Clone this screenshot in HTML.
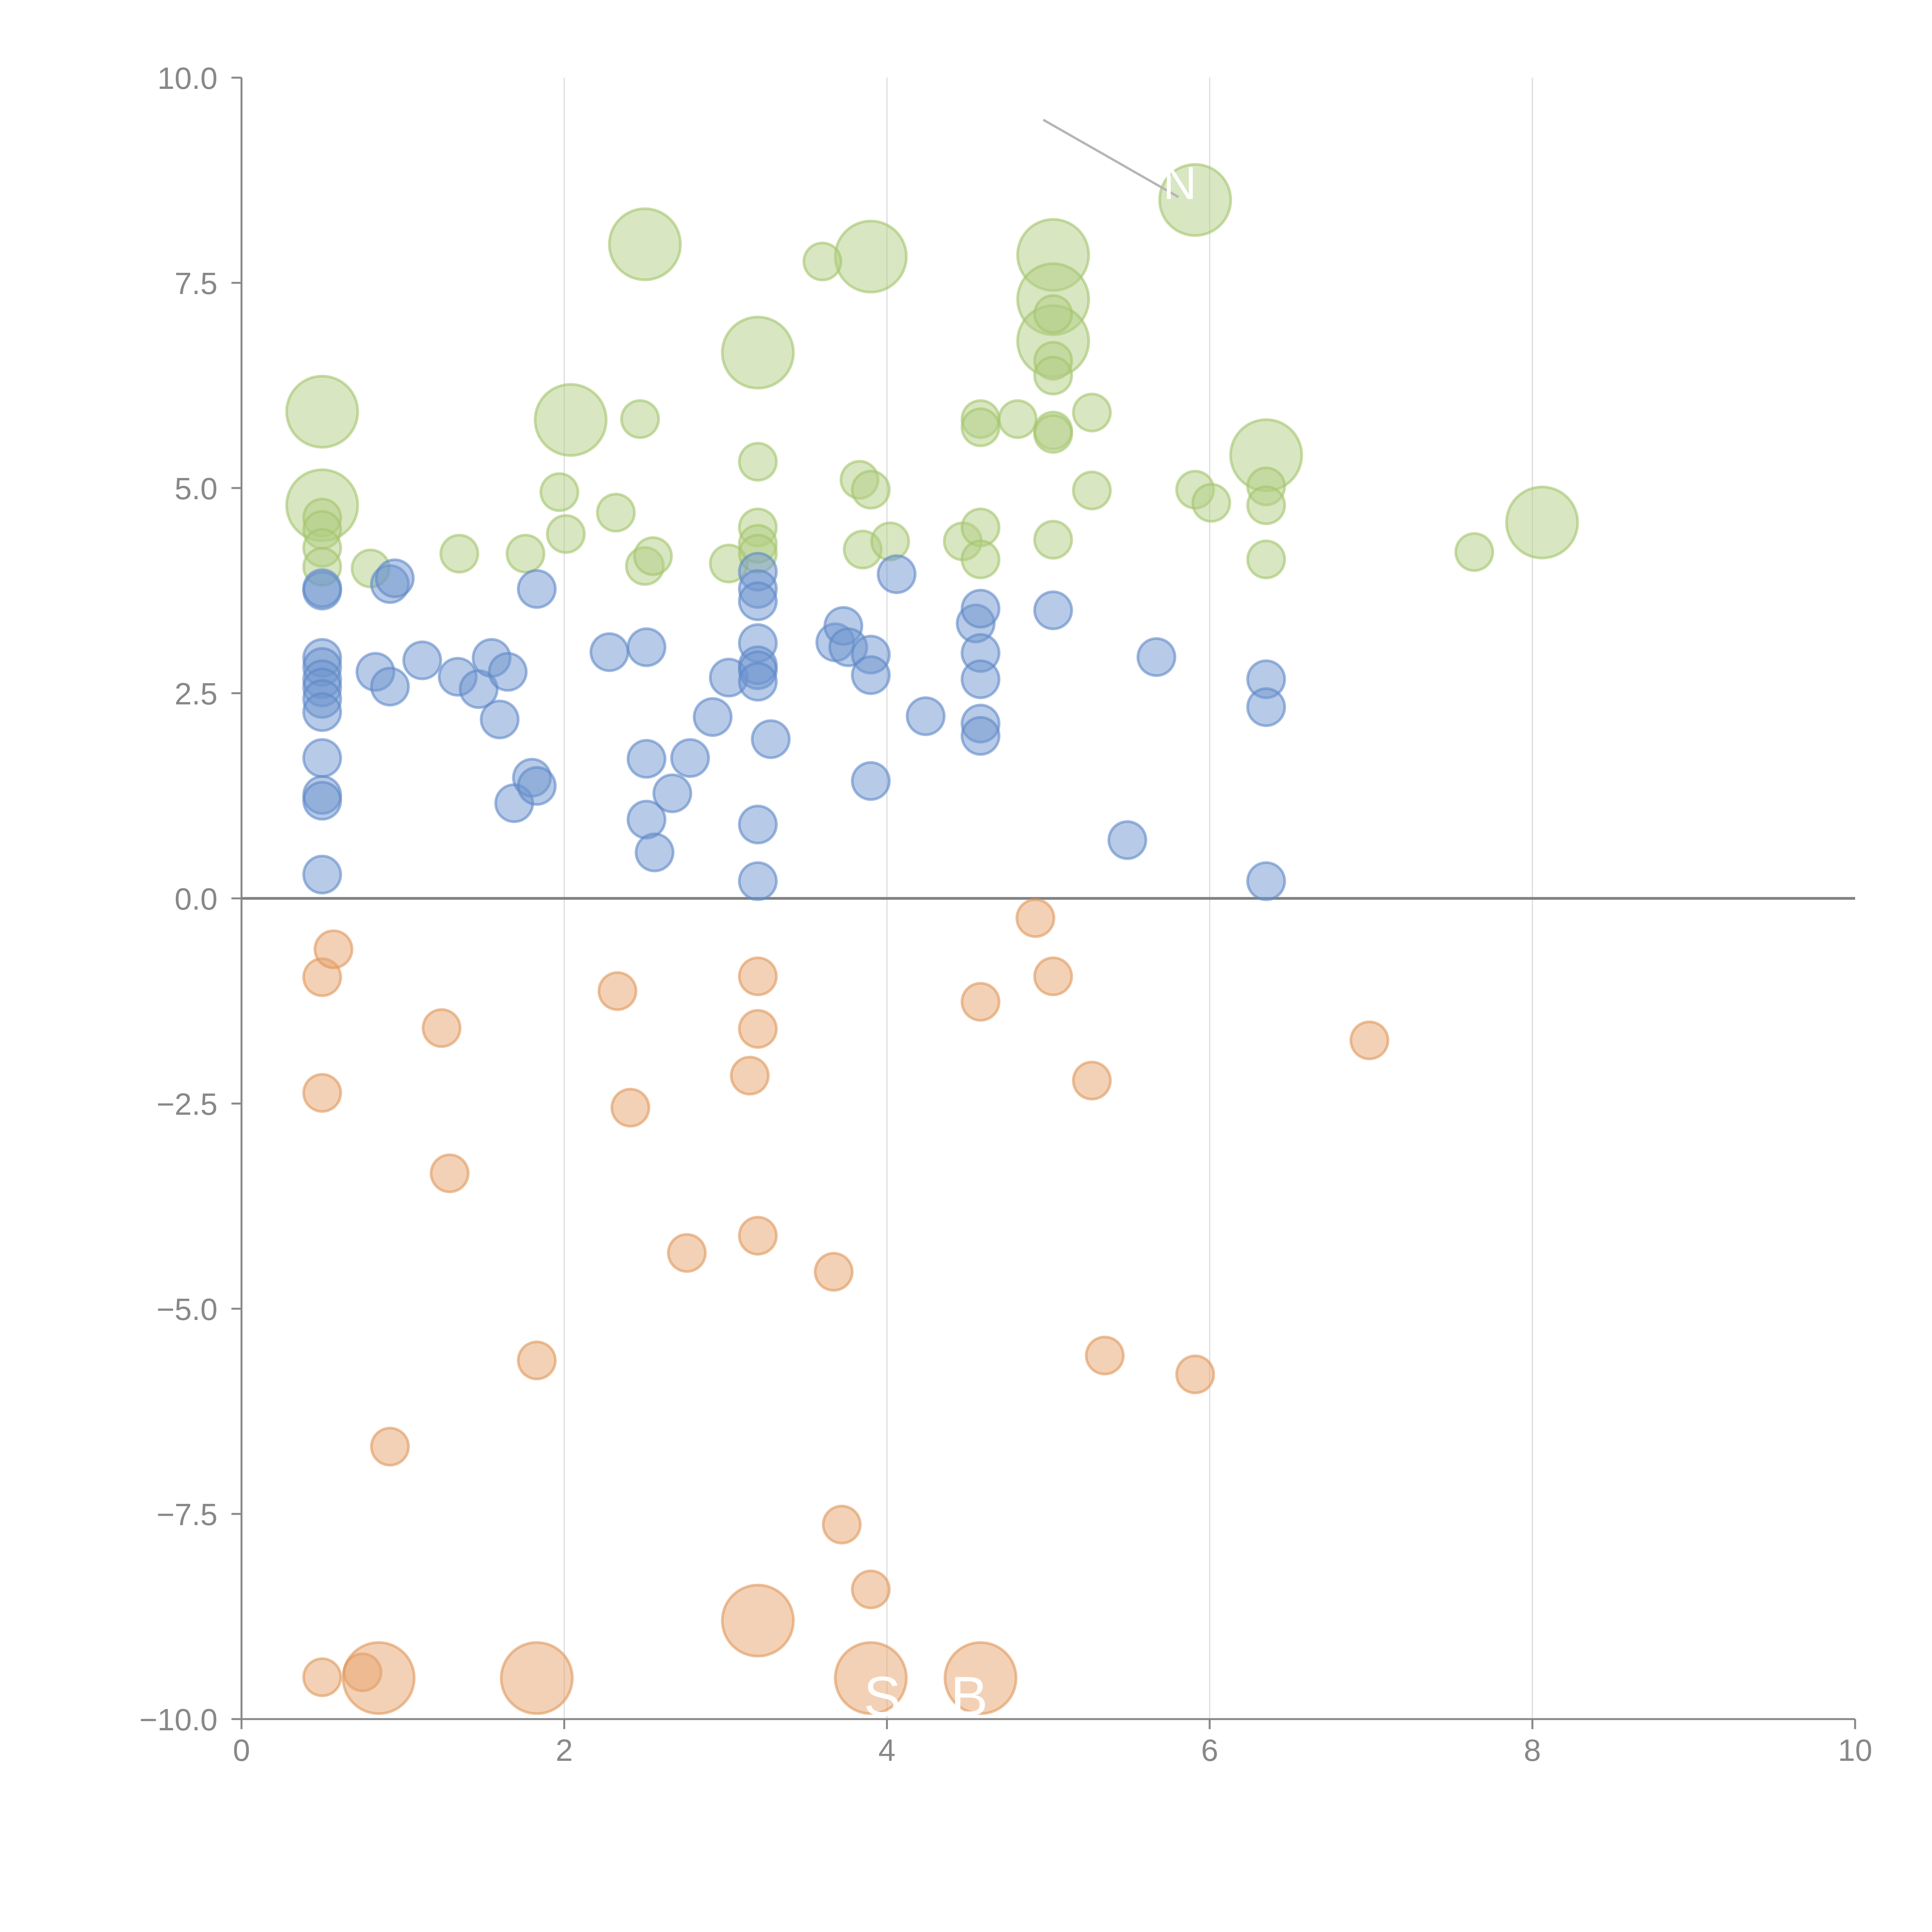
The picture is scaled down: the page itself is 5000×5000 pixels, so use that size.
<!DOCTYPE html>
<html><head><meta charset="utf-8">
<style>html,body{margin:0;padding:0;background:#fff;}svg{display:block;}</style>
</head><body>
<svg id="chart" width="5000" height="5000" viewBox="0 0 5000 5000" xmlns="http://www.w3.org/2000/svg" font-family="Liberation Sans, Arial, sans-serif">
<g id="grid"></g>
<g id="axes"></g>
<g id="marks"></g>
<g id="annot"></g>
</svg>
<script>
const xTicks = [0, 2, 4, 6, 8, 10];
const yTicks = [10, 7.5, 5, 2.5, 0, -2.5, -5, -7.5, -10];
const yTickLabels = ["10.0", "7.5", "5.0", "2.5", "0.0", "\u22122.5", "\u22125.0", "\u22127.5", "\u221210.0"];

const greenX = [0.5,0.5,2.5,2.04,3.2,3.9,5.03,5.03,5.03,5.91,6.35,8.06,
 0.5,0.5,0.5,0.5,0.8,1.35,1.76,1.97,2.01,2.32,2.47,2.5,2.55,3.02,3.2,3.2,3.2,3.2,3.6,3.83,3.85,3.9,4.02,4.47,4.58,4.58,4.58,4.58,4.81,5.03,5.03,5.03,5.03,5.03,5.03,5.27,5.27,5.91,6.01,6.35,6.35,6.35,7.64];
const greenY = [5.93,4.79,7.97,5.83,6.65,7.82,7.84,7.3,6.79,8.51,5.4,4.58,
 4.64,4.49,4.27,4.04,4.02,4.2,4.2,4.95,4.44,4.7,5.84,4.05,4.17,4.08,5.32,4.52,4.32,4.2,7.76,5.1,4.25,4.98,4.35,4.35,5.84,5.74,4.52,4.13,5.84,7.12,6.55,6.37,5.7,5.66,4.37,5.92,4.97,4.98,4.82,5.02,4.79,4.13,4.22];
const greenSize = [2,2,2,2,2,2,2,2,2,2,2,2,
 1,1,1,1,1,1,1,1,1,1,1,1,1,1,1,1,1,1,1,1,1,1,1,1,1,1,1,1,1,1,1,1,1,1,1,1,1,1,1,1,1,1,1];

const blueX = [0.5,0.5,0.5,0.5,0.5,0.5,0.5,0.5,0.5,0.5,0.5,0.5,0.83,0.92,0.95,0.92,1.12,1.34,1.47,1.55,1.6,1.65,1.69,1.8,1.83,1.83,2.28,2.51,2.51,2.51,2.56,2.67,2.78,2.92,3.02,3.2,3.2,3.2,3.2,3.2,3.2,3.2,3.2,3.2,3.28,3.68,3.73,3.76,3.9,3.9,3.9,4.06,4.24,4.55,4.58,4.58,4.58,4.58,4.58,5.03,5.49,5.67,6.35,6.35,6.35];
const blueY = [3.75,3.78,2.93,2.82,2.67,2.57,2.43,2.27,1.71,1.26,1.19,0.29,2.76,3.83,3.9,2.58,2.9,2.7,2.55,2.93,2.18,2.76,1.16,1.47,3.77,1.37,3.0,3.06,1.7,0.96,0.56,1.28,1.71,2.21,2.69,3.98,3.77,3.62,3.11,2.84,2.78,2.64,0.9,0.21,1.94,3.12,3.32,3.06,2.97,2.72,1.43,3.95,2.22,3.35,3.53,2.99,2.67,2.13,1.98,3.51,0.71,2.94,2.67,2.33,0.21];

const orangeX = [0.5,0.57,0.5,1.24,1.29,0.92,0.5,0.75,1.83,2.33,2.41,2.76,3.15,3.2,3.2,3.2,3.67,3.72,3.9,4.58,4.92,5.03,5.27,5.35,5.91,6.99,
 0.85,1.83,3.2,3.9,4.58];
const orangeY = [-0.96,-0.62,-2.37,-1.58,-3.35,-6.68,-9.49,-9.43,-5.63,-1.13,-2.55,-4.32,-2.16,-0.95,-1.59,-4.11,-4.55,-7.63,-8.42,-1.26,-0.24,-0.95,-2.22,-5.57,-5.8,-1.73,
 -9.5,-9.5,-8.8,-9.5,-9.5];
const orangeSize = [1,1,1,1,1,1,1,1,1,1,1,1,1,1,1,1,1,1,1,1,1,1,1,1,1,1,2,2,2,2,2];

const NS = "http://www.w3.org/2000/svg";
const X0 = 625, X1 = 4801, Y0 = 4449, Y1 = 201;
function sx(v){ return X0 + (v - 0) / 10 * (X1 - X0); }
function sy(v){ return Y0 - (v + 10) / 20 * (Y0 - Y1); }
function rs(s){ return s === 2 ? 92 : 48; }
function mk(tag, attrs, parent){
  const e = document.createElementNS(NS, tag);
  for (const k in attrs) e.setAttribute(k, attrs[k]);
  parent.appendChild(e);
  return e;
}
const grid = document.getElementById('grid');
const axes = document.getElementById('axes');
const marks = document.getElementById('marks');
const annot = document.getElementById('annot');

xTicks.forEach(function(t){
  if (t > 0 && t < 10) {
    const g = mk('line', {x1: sx(t), x2: sx(t), y1: Y1, y2: Y0, stroke: '#dcdcdc', 'stroke-width': 3}, grid);
    
    
  }
  const tk = mk('line', {x1: sx(t), x2: sx(t), y1: Y0, y2: Y0 + 26, stroke: '#888', 'stroke-width': 5}, axes);
  
  
  const lb = mk('text', {x: sx(t), y: Y0 + 108, 'text-anchor': 'middle', 'font-size': 80, fill: '#888'}, axes);
  lb.textContent = String(t);
  
  
});
yTicks.forEach(function(t, i){
  const tk = mk('line', {x1: X0 - 26, x2: X0, y1: sy(t), y2: sy(t), stroke: '#888', 'stroke-width': 5}, axes);
  
  
  const lb = mk('text', {x: X0 - 62, y: sy(t) + 29, 'text-anchor': 'end', 'font-size': 80, fill: '#888'}, axes);
  lb.textContent = yTickLabels[i];
  
  
});
const ya = mk('line', {x1: X0, x2: X0, y1: Y1, y2: Y0, stroke: '#888', 'stroke-width': 5}, axes);


const xa = mk('line', {x1: X0, x2: X1, y1: Y0, y2: Y0, stroke: '#888', 'stroke-width': 5}, axes);


const zl = mk('line', {x1: X0, x2: X1, y1: sy(0), y2: sy(0), stroke: '#808080', 'stroke-width': 7}, axes);



function drawSeries(xs, ys, sizes, fill, stroke, name){
  xs.forEach(function(x, i){
    const c = mk('circle', {cx: sx(x), cy: sy(ys[i]), r: rs(sizes ? sizes[i] : 1), fill: fill, 'fill-opacity': 0.5, stroke: stroke, 'stroke-opacity': 0.6, 'stroke-width': 7}, marks);
    
    
  });
}
drawSeries(greenX, greenY, greenSize, '#b2cd84', '#a3c46c', 'bubble-green');
drawSeries(blueX, blueY, null, '#6f96cf', '#5f89c8', 'bubble-blue');
drawSeries(orangeX, orangeY, orangeSize, '#e8a46e', '#e0975c', 'bubble-orange');

const gl = mk('line', {x1: 2700, y1: 310, x2: 3050, y2: 510, stroke: '#b5b5b5', 'stroke-width': 6}, annot);


const s1 = mk('text', {x: 2235, y: 4440, 'font-size': 145, fill: '#fff'}, annot);
s1.textContent = 'S';


const s2 = mk('text', {x: 2460, y: 4440, 'font-size': 145, fill: '#fff'}, annot);
s2.textContent = 'B';


const s3 = mk('text', {x: 3010, y: 515, 'font-size': 120, fill: '#fff'}, annot);
s3.textContent = 'N';


</script>
</body></html>
